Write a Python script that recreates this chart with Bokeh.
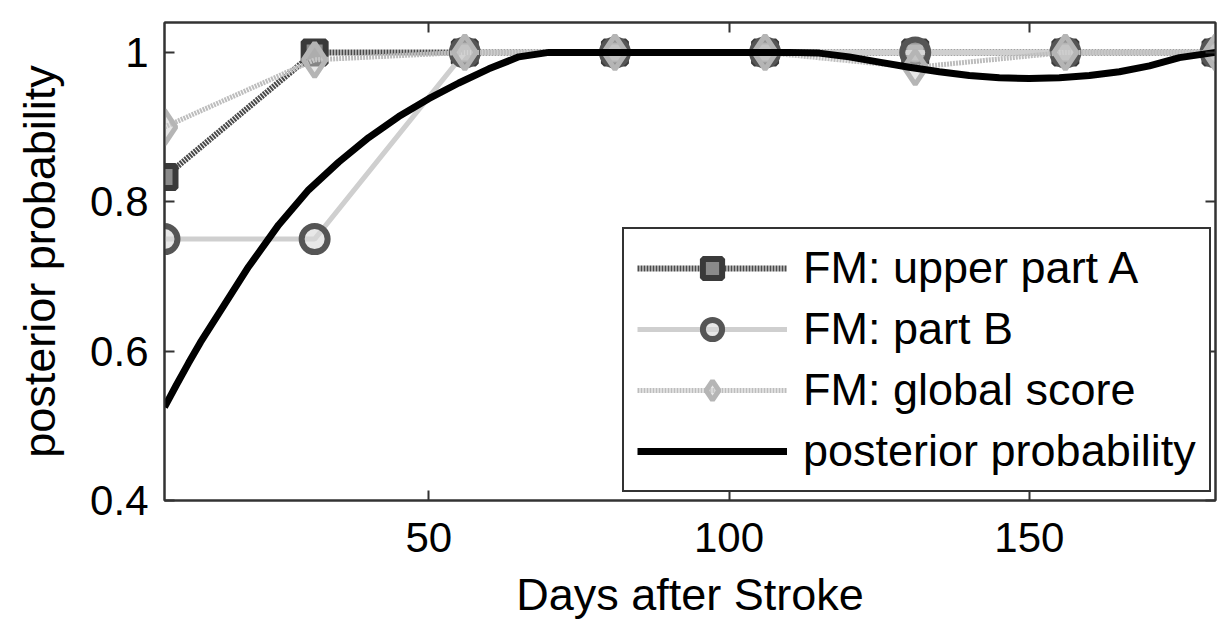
from bokeh.plotting import figure
from bokeh.models import (Range1d, LinearAxis, Legend, LegendItem, FixedTicker,
                          NumeralTickFormatter, CustomJSTickFormatter)
from bokeh.embed import file_html
from bokeh.resources import INLINE

# ---- data ----
days = [6, 31, 56, 81, 106, 131, 156, 181]
fm_upper_part_a = [0.833, 1.0, 1.0, 1.0, 1.0, 1.0, 1.0, 1.0]
fm_part_b = [0.75, 0.75, 1.0, 1.0, 1.0, 1.0, 1.0, 1.0]
fm_global_score = [0.90, 0.99, 1.0, 1.0, 1.0, 0.98, 1.0, 1.0]

curve_days = [6, 8, 10, 12, 15, 20, 25, 30, 35, 40, 45, 50, 55, 60, 65, 70, 80, 90,
              100, 110, 115, 120, 125, 130, 135, 140, 145, 150, 155, 160,
              165, 170, 175, 181]
posterior = [0.525, 0.555, 0.584, 0.612, 0.650, 0.713, 0.769, 0.816, 0.853, 0.886, 0.914,
             0.938, 0.959, 0.978, 0.994, 1.0, 1.0, 1.0, 1.0, 1.0, 0.999,
             0.994, 0.987, 0.980, 0.974, 0.969, 0.966, 0.965, 0.966, 0.969,
             0.974, 0.982, 0.993, 1.0]

x_ticks = [50, 100, 150]
y_ticks = [0.4, 0.6, 0.8, 1.0]

labels = ["FM: upper part A", "FM: part B", "FM: global score", "posterior probability"]

FONT = "Liberation Sans"
EDGE = "#333333"

p = figure(width=1225, height=635, output_backend="svg", toolbar_location=None,
           x_range=Range1d(6, 181), y_range=Range1d(0.4, 1.04),
           min_border_left=164, min_border_right=10, min_border_top=22,
           min_border_bottom=135)
p.xgrid.visible = False
p.ygrid.visible = False
p.background_fill_color = "white"
p.border_fill_color = "white"
p.outline_line_color = EDGE
p.outline_line_width = 2
p.outline_line_alpha = 1

for ax in (p.xaxis[0], p.yaxis[0]):
    ax.axis_line_color = EDGE
    ax.axis_line_width = 2
    ax.major_tick_in = 10
    ax.major_tick_out = 0
    ax.major_tick_line_color = EDGE
    ax.major_tick_line_width = 2
    ax.minor_tick_line_color = None
    ax.major_label_text_font = FONT
    ax.major_label_text_font_size = "42px"
    ax.major_label_text_color = "black"
    ax.axis_label_text_font = FONT
    ax.axis_label_text_font_size = "45px"
    ax.axis_label_text_font_style = "normal"
    ax.axis_label_text_color = "black"

p.xaxis.ticker = FixedTicker(ticks=x_ticks)
p.yaxis.ticker = FixedTicker(ticks=y_ticks)
p.yaxis.formatter = NumeralTickFormatter(format="0.[0]")
p.xaxis.axis_label = "Days after Stroke"
p.yaxis.axis_label = "posterior probability"
p.xaxis.major_label_standoff = 22
p.yaxis.major_label_standoff = 16
p.xaxis.axis_label_standoff = 14
p.yaxis.axis_label_standoff = 22

# mirrored ticks (box on) without labels
top = LinearAxis(ticker=FixedTicker(ticks=x_ticks), formatter=CustomJSTickFormatter(code="return ''"),
                 major_tick_in=10, major_tick_out=0, minor_tick_line_color=None,
                 axis_line_color=EDGE, axis_line_width=2,
                 major_tick_line_color=EDGE, major_tick_line_width=2,
                 major_label_standoff=0)
right = LinearAxis(ticker=FixedTicker(ticks=y_ticks), formatter=CustomJSTickFormatter(code="return ''"),
                   major_tick_in=10, major_tick_out=0, minor_tick_line_color=None,
                   axis_line_color=EDGE, axis_line_width=2,
                   major_tick_line_color=EDGE, major_tick_line_width=2,
                   major_label_standoff=0)
p.add_layout(top, "above")
p.add_layout(right, "right")

# series
la = p.line(days, fm_upper_part_a, line_color="#4a4a4a", line_width=6, line_dash="2 1")
sa = p.scatter(days, fm_upper_part_a, marker="square", size=22, line_color="#3a3a3a",
               line_width=6, fill_color="#8a8a8a")

lb = p.line(days, fm_part_b, line_color="#cfcfcf", line_width=5)
sb = p.scatter(days, fm_part_b, marker="circle", size=26, line_color="#555555",
               line_width=6, fill_color="#d8d8d8", fill_alpha=0.6)

lg = p.line(days, fm_global_score, line_color="#bdbdbd", line_width=5, line_dash="2 1")
sg = p.scatter(days, fm_global_score, marker="diamond", size=34, line_color="#b5b5b5",
               line_width=5, fill_color="#d0d0d0", fill_alpha=0.5)

lp = p.line(curve_days, posterior, line_color="black", line_width=7)

legend = Legend(items=[
    LegendItem(label=labels[0], renderers=[la, sa]),
    LegendItem(label=labels[1], renderers=[lb, sb]),
    LegendItem(label=labels[2], renderers=[lg, sg]),
    LegendItem(label=labels[3], renderers=[lp]),
], location=(458, 8))
legend.label_text_font = FONT
legend.label_text_font_size = "45px"
legend.label_text_color = "black"
legend.glyph_width = 150
legend.glyph_height = 48
legend.label_height = 48
legend.spacing = 9
legend.padding = 13
legend.margin = 0
legend.label_standoff = 16
legend.border_line_color = EDGE
legend.border_line_width = 2
legend.border_line_alpha = 1
legend.background_fill_color = "white"
legend.background_fill_alpha = 1
p.add_layout(legend, "center")

open("out.html", "w").write(file_html(p, INLINE))
